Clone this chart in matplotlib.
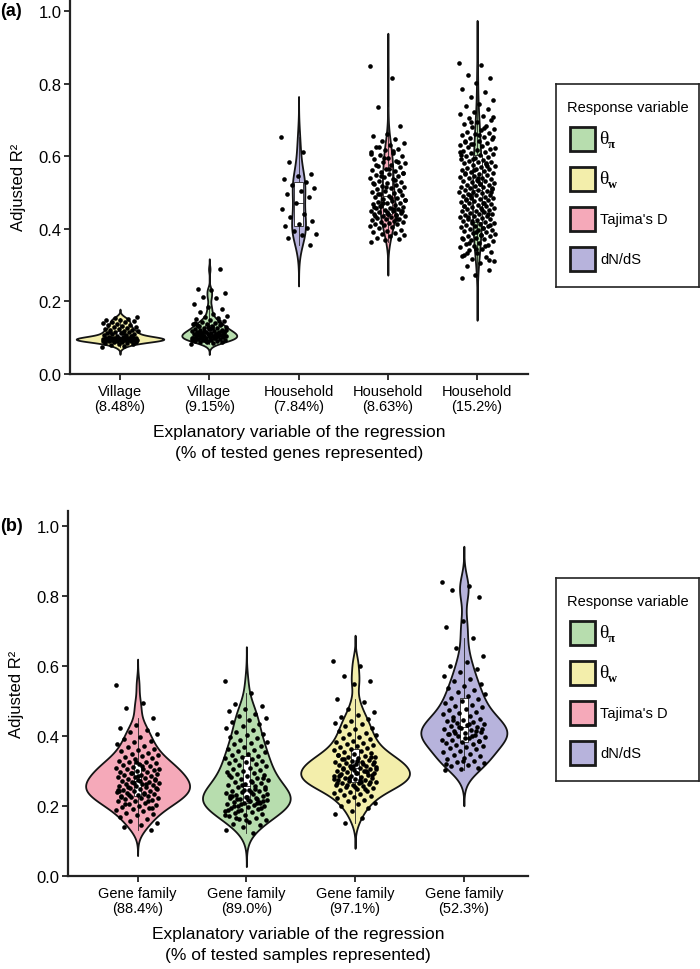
import numpy as np
import matplotlib
matplotlib.use("Agg")
import matplotlib.pyplot as plt
from matplotlib.patches import Rectangle

plt.rcParams['font.family'] = ['Liberation Sans', 'DejaVu Sans']

# colours for the response variables
GREEN = '#b7ddae'
YELLOW = '#f3eeab'
PINK = '#f5a9b9'
PURPLE = '#b7b3dc'

# ---- panel (a) data: adjusted R^2 per regression ----
labels_a = ["Village\n(8.48%)", "Village\n(9.15%)", "Household\n(7.84%)",
            "Household\n(8.63%)", "Household\n(15.2%)"]
colors_a = [YELLOW, GREEN, PURPLE, PINK, GREEN]

village_848 = [
    0.075, 0.078, 0.080, 0.082, 0.084, 0.085, 0.086, 0.087, 0.088, 0.089,
    0.090, 0.091, 0.092, 0.092, 0.093, 0.093, 0.094, 0.094, 0.094, 0.094,
    0.095, 0.095, 0.095, 0.095, 0.095, 0.096, 0.096, 0.096, 0.096, 0.096,
    0.097, 0.097, 0.097, 0.097, 0.097, 0.098, 0.098, 0.098, 0.098, 0.099,
    0.099, 0.099, 0.100, 0.101, 0.103, 0.104, 0.106, 0.107, 0.108, 0.110,
    0.111, 0.112, 0.114, 0.115, 0.116, 0.118, 0.119, 0.121, 0.122, 0.124,
    0.125, 0.127, 0.129, 0.130, 0.132, 0.134, 0.136, 0.138, 0.140, 0.142,
    0.144, 0.146, 0.148, 0.150, 0.152, 0.155, 0.158, 0.113, 0.117, 0.105]

village_915 = [
    0.082, 0.085, 0.087, 0.089, 0.090, 0.091, 0.092, 0.093, 0.094, 0.095,
    0.096, 0.097, 0.098, 0.099, 0.100, 0.100, 0.101, 0.102, 0.103, 0.104,
    0.105, 0.105, 0.106, 0.107, 0.108, 0.109, 0.110, 0.111, 0.112, 0.113,
    0.114, 0.115, 0.116, 0.117, 0.118, 0.119, 0.120, 0.122, 0.123, 0.125,
    0.126, 0.128, 0.130, 0.131, 0.133, 0.135, 0.137, 0.139, 0.141, 0.143,
    0.145, 0.148, 0.151, 0.154, 0.157, 0.160, 0.165, 0.172, 0.178, 0.185,
    0.193, 0.210, 0.213, 0.222, 0.231, 0.233, 0.289, 0.092, 0.095, 0.098,
    0.101, 0.104, 0.107, 0.111, 0.114, 0.118, 0.121, 0.127, 0.132, 0.138,
    0.088, 0.096, 0.103, 0.109, 0.116, 0.124, 0.134, 0.146, 0.094, 0.099,
    0.106, 0.112, 0.119, 0.129, 0.140]

household_784 = [
    0.652, 0.612, 0.583, 0.551, 0.545, 0.536, 0.528, 0.521, 0.512, 0.503,
    0.495, 0.488, 0.472, 0.455, 0.441, 0.433, 0.421, 0.412, 0.408, 0.402,
    0.395, 0.387, 0.382, 0.376, 0.355]

household_863 = [
    0.848, 0.815, 0.735, 0.683, 0.662, 0.655, 0.648, 0.641, 0.636, 0.631,
    0.626, 0.621, 0.617, 0.612, 0.608, 0.604, 0.600, 0.596, 0.592, 0.588,
    0.584, 0.580, 0.577, 0.573, 0.570, 0.566, 0.563, 0.560, 0.557, 0.554,
    0.551, 0.548, 0.545, 0.542, 0.539, 0.536, 0.533, 0.530, 0.527, 0.524,
    0.521, 0.518, 0.515, 0.512, 0.509, 0.506, 0.503, 0.500, 0.498, 0.495,
    0.492, 0.490, 0.487, 0.485, 0.482, 0.480, 0.477, 0.475, 0.472, 0.470,
    0.468, 0.465, 0.463, 0.461, 0.458, 0.456, 0.454, 0.452, 0.450, 0.448,
    0.446, 0.444, 0.442, 0.440, 0.438, 0.436, 0.434, 0.432, 0.430, 0.428,
    0.426, 0.424, 0.422, 0.420, 0.418, 0.416, 0.414, 0.412, 0.410, 0.407,
    0.404, 0.401, 0.398, 0.395, 0.392, 0.389, 0.386, 0.383, 0.380, 0.376,
    0.372, 0.368, 0.363, 0.455, 0.462, 0.448, 0.441, 0.435, 0.428, 0.470,
    0.478, 0.485, 0.495, 0.505, 0.515, 0.525, 0.535, 0.545, 0.555, 0.565,
    0.575, 0.585, 0.595, 0.605, 0.615, 0.625, 0.450, 0.445, 0.460, 0.438]

household_152 = [
    0.857, 0.852, 0.824, 0.815, 0.801, 0.786, 0.778, 0.763, 0.755, 0.744,
    0.738, 0.729, 0.722, 0.717, 0.711, 0.704, 0.699, 0.694, 0.689, 0.684,
    0.680, 0.676, 0.671, 0.668, 0.664, 0.660, 0.657, 0.653, 0.649, 0.646,
    0.643, 0.640, 0.637, 0.633, 0.630, 0.627, 0.624, 0.621, 0.618, 0.615,
    0.612, 0.609, 0.606, 0.604, 0.601, 0.598, 0.596, 0.593, 0.590, 0.588,
    0.585, 0.583, 0.580, 0.578, 0.575, 0.573, 0.571, 0.568, 0.566, 0.564,
    0.561, 0.559, 0.557, 0.555, 0.552, 0.550, 0.548, 0.546, 0.544, 0.541,
    0.539, 0.537, 0.535, 0.533, 0.531, 0.529, 0.527, 0.524, 0.522, 0.520,
    0.518, 0.516, 0.514, 0.512, 0.510, 0.508, 0.506, 0.504, 0.502, 0.500,
    0.498, 0.496, 0.494, 0.492, 0.490, 0.488, 0.486, 0.484, 0.482, 0.480,
    0.478, 0.476, 0.474, 0.472, 0.470, 0.468, 0.466, 0.464, 0.462, 0.460,
    0.458, 0.456, 0.454, 0.452, 0.450, 0.448, 0.446, 0.444, 0.442, 0.440,
    0.438, 0.436, 0.434, 0.432, 0.430, 0.428, 0.426, 0.424, 0.421, 0.419,
    0.417, 0.415, 0.413, 0.411, 0.409, 0.407, 0.405, 0.402, 0.400, 0.398,
    0.396, 0.393, 0.391, 0.389, 0.386, 0.384, 0.381, 0.379, 0.376, 0.374,
    0.371, 0.368, 0.365, 0.362, 0.359, 0.356, 0.352, 0.349, 0.345, 0.341,
    0.337, 0.333, 0.328, 0.323, 0.318, 0.312, 0.305, 0.297, 0.286, 0.274,
    0.265, 0.471, 0.493, 0.512, 0.531, 0.553, 0.572, 0.591, 0.612, 0.451,
    0.432, 0.411, 0.392, 0.371, 0.352, 0.633, 0.652, 0.523, 0.483, 0.441,
    0.562, 0.603, 0.401, 0.362, 0.502, 0.541, 0.462, 0.582, 0.422, 0.622,
    0.383, 0.334, 0.315, 0.343, 0.326, 0.677, 0.695, 0.708, 0.657, 0.642]

# ---- panel (b) data ----
labels_b = ["Gene family\n(88.4%)", "Gene family\n(89.0%)",
            "Gene family\n(97.1%)", "Gene family\n(52.3%)"]
colors_b = [PINK, GREEN, YELLOW, PURPLE]

gf_884 = [
    0.546, 0.494, 0.481, 0.452, 0.431, 0.424, 0.418, 0.411, 0.405, 0.398,
    0.392, 0.387, 0.382, 0.377, 0.372, 0.368, 0.364, 0.360, 0.356, 0.352,
    0.349, 0.346, 0.342, 0.339, 0.336, 0.333, 0.330, 0.327, 0.325, 0.322,
    0.319, 0.317, 0.314, 0.312, 0.310, 0.307, 0.305, 0.303, 0.300, 0.298,
    0.296, 0.294, 0.292, 0.290, 0.288, 0.286, 0.284, 0.282, 0.280, 0.278,
    0.276, 0.274, 0.272, 0.270, 0.268, 0.266, 0.264, 0.262, 0.260, 0.258,
    0.256, 0.254, 0.252, 0.250, 0.248, 0.246, 0.244, 0.242, 0.240, 0.238,
    0.236, 0.234, 0.232, 0.230, 0.228, 0.226, 0.224, 0.222, 0.220, 0.218,
    0.215, 0.213, 0.210, 0.207, 0.204, 0.201, 0.198, 0.195, 0.192, 0.188,
    0.185, 0.181, 0.177, 0.173, 0.168, 0.163, 0.158, 0.152, 0.146, 0.139,
    0.132, 0.265, 0.245, 0.235, 0.255, 0.275, 0.285, 0.225, 0.215, 0.295,
    0.305, 0.315, 0.205, 0.195, 0.325, 0.243, 0.262, 0.231, 0.251, 0.271]

gf_890 = [
    0.558, 0.523, 0.492, 0.486, 0.478, 0.471, 0.464, 0.457, 0.451, 0.445,
    0.439, 0.433, 0.428, 0.422, 0.417, 0.412, 0.407, 0.402, 0.397, 0.393,
    0.388, 0.384, 0.380, 0.376, 0.372, 0.368, 0.364, 0.360, 0.357, 0.353,
    0.350, 0.347, 0.343, 0.340, 0.337, 0.334, 0.331, 0.328, 0.325, 0.322,
    0.319, 0.316, 0.313, 0.310, 0.307, 0.304, 0.301, 0.298, 0.295, 0.292,
    0.289, 0.286, 0.283, 0.280, 0.277, 0.274, 0.271, 0.268, 0.265, 0.262,
    0.259, 0.256, 0.253, 0.250, 0.247, 0.244, 0.242, 0.239, 0.236, 0.234,
    0.231, 0.229, 0.226, 0.224, 0.221, 0.219, 0.217, 0.214, 0.212, 0.210,
    0.208, 0.205, 0.203, 0.201, 0.199, 0.196, 0.194, 0.191, 0.189, 0.186,
    0.183, 0.180, 0.177, 0.174, 0.171, 0.167, 0.163, 0.159, 0.155, 0.150,
    0.145, 0.139, 0.132, 0.124, 0.220, 0.215, 0.225, 0.230, 0.210, 0.205,
    0.235, 0.240, 0.200, 0.195, 0.245, 0.190, 0.250, 0.185, 0.255, 0.218,
    0.228, 0.212, 0.260, 0.175, 0.270, 0.165, 0.280, 0.160, 0.290, 0.222]

gf_971 = [
    0.615, 0.601, 0.572, 0.557, 0.548, 0.505, 0.497, 0.478, 0.468, 0.461,
    0.455, 0.449, 0.443, 0.438, 0.433, 0.428, 0.423, 0.419, 0.414, 0.410,
    0.406, 0.402, 0.398, 0.394, 0.391, 0.387, 0.384, 0.380, 0.377, 0.374,
    0.371, 0.368, 0.365, 0.362, 0.359, 0.356, 0.354, 0.351, 0.349, 0.346,
    0.344, 0.341, 0.339, 0.336, 0.334, 0.332, 0.330, 0.327, 0.325, 0.323,
    0.321, 0.319, 0.317, 0.315, 0.313, 0.311, 0.309, 0.307, 0.305, 0.303,
    0.301, 0.299, 0.297, 0.295, 0.293, 0.291, 0.289, 0.287, 0.285, 0.283,
    0.281, 0.279, 0.277, 0.275, 0.273, 0.271, 0.269, 0.267, 0.265, 0.263,
    0.261, 0.259, 0.257, 0.254, 0.252, 0.249, 0.247, 0.244, 0.241, 0.238,
    0.235, 0.232, 0.229, 0.226, 0.222, 0.218, 0.214, 0.210, 0.205, 0.200,
    0.194, 0.187, 0.178, 0.167, 0.152, 0.290, 0.295, 0.285, 0.300, 0.280,
    0.305, 0.275, 0.310, 0.270, 0.315, 0.265, 0.320, 0.260, 0.325, 0.330,
    0.288, 0.298, 0.308, 0.278, 0.268, 0.335, 0.340, 0.255, 0.345, 0.250]

gf_523 = [
    0.841, 0.828, 0.817, 0.798, 0.728, 0.712, 0.679, 0.652, 0.628, 0.612,
    0.601, 0.592, 0.583, 0.572, 0.563, 0.556, 0.549, 0.543, 0.537, 0.531,
    0.525, 0.520, 0.515, 0.510, 0.505, 0.500, 0.495, 0.490, 0.486, 0.482,
    0.478, 0.474, 0.470, 0.466, 0.462, 0.458, 0.454, 0.450, 0.447, 0.444,
    0.441, 0.438, 0.435, 0.432, 0.429, 0.426, 0.423, 0.420, 0.417, 0.414,
    0.411, 0.408, 0.405, 0.402, 0.399, 0.396, 0.393, 0.390, 0.387, 0.384,
    0.381, 0.378, 0.375, 0.372, 0.369, 0.366, 0.362, 0.358, 0.354, 0.350,
    0.346, 0.342, 0.338, 0.334, 0.330, 0.326, 0.322, 0.318, 0.314, 0.310,
    0.306, 0.302, 0.400, 0.410, 0.420, 0.395, 0.405, 0.415, 0.425, 0.390,
    0.435, 0.445, 0.385, 0.330, 0.320]

legend_items = [("θ", "π", GREEN), ("θ", "w", YELLOW),
                ("Tajima's D", None, PINK), ("dN/dS", None, PURPLE)]

W, H = 700, 970
fig = plt.figure(figsize=(W / 100, H / 100), dpi=100)


def px_axes(left, top, right, bottom):
    return fig.add_axes([left / W, 1 - bottom / H, (right - left) / W, (bottom - top) / H])


def kde(vals):
    # gaussian kde, silverman bandwidth, tails run 3 bandwidths past the data
    n = len(vals)
    q75, q25 = np.percentile(vals, [75, 25])
    bw = 0.9 * min(vals.std(ddof=1), (q75 - q25) / 1.34) * n ** -0.2
    grid = np.linspace(vals.min() - 3 * bw, vals.max() + 3 * bw, 400)
    z = (grid[:, None] - vals[None, :]) / bw
    dens = np.exp(-0.5 * z ** 2).sum(axis=1) / (n * bw * np.sqrt(2 * np.pi))
    return grid, dens


def draw_violins(ax, groups, colors, max_half, box_w):
    curves = [kde(np.asarray(g)) for g in groups]
    peak = max(d.max() for _, d in curves)  # same area for every violin
    for i, (vals, col, (grid, dens)) in enumerate(zip(groups, colors, curves)):
        vals = np.asarray(vals)
        half = dens / peak * max_half
        ax.fill_betweenx(grid, i - half, i + half, facecolor=col,
                         edgecolor='#141414', linewidth=1.3, zorder=2)

        q1, med, q3 = np.percentile(vals, [25, 50, 75])
        iqr = q3 - q1
        lo = vals[vals >= q1 - 1.5 * iqr].min()
        hi = vals[vals <= q3 + 1.5 * iqr].max()
        ax.plot([i, i], [lo, q1], color='#222222', lw=0.6, zorder=3)
        ax.plot([i, i], [q3, hi], color='#222222', lw=0.6, zorder=3)
        ax.bar(i, q3 - q1, bottom=q1, width=box_w, color='white',
               edgecolor='#222222', linewidth=0.6, zorder=3)
        ax.plot([i - box_w / 2, i + box_w / 2], [med, med], color='#222222', lw=0.6, zorder=3)

        # spread points sideways in a fixed pattern
        jit = ((np.arange(len(vals)) * 0.6180339887) % 1 - 0.5) * 0.4
        ax.scatter(i + jit, vals, s=11, c='black', linewidths=0, zorder=4)


def style_axes(ax, labels, xlabel, xlim, ylim):
    ax.set_xlim(*xlim)
    ax.set_ylim(*ylim)
    ax.set_xticks(range(len(labels)))
    ax.set_xticklabels(labels, fontsize=10.5, linespacing=1.15)
    ax.set_yticks([0, 0.2, 0.4, 0.6, 0.8, 1.0])
    ax.set_yticklabels(['0.0', '0.2', '0.4', '0.6', '0.8', '1.0'], fontsize=12)
    ax.tick_params(axis='both', direction='out', length=4, width=1.3, color='#222222')
    ax.tick_params(axis='x', pad=3)
    ax.tick_params(axis='y', pad=2)
    for s in ['top', 'right']:
        ax.spines[s].set_visible(False)
    for s in ['left', 'bottom']:
        ax.spines[s].set_linewidth(1.6)
        ax.spines[s].set_color('#222222')
    ax.set_xlabel(xlabel, fontsize=12.5, linespacing=1.5, labelpad=8)
    ax.set_ylabel("Adjusted R²", fontsize=12, labelpad=9)


def draw_legend(top):
    lax = px_axes(556, top, 699, top + 203)
    lax.set_xlim(0, 143)
    lax.set_ylim(203, 0)
    lax.set_xticks([])
    lax.set_yticks([])
    for s in lax.spines.values():
        s.set_linewidth(1.2)
        s.set_color('#222222')
    lax.text(71.5, 23, "Response variable", ha='center', va='center', fontsize=10.5)
    for k, (name, sub, col) in enumerate(legend_items):
        y = 55 + 40 * k
        lax.add_patch(Rectangle((14, y - 12), 25, 24, facecolor=col,
                                edgecolor='#1a1a1a', linewidth=2))
        if sub:
            lax.text(43, y, name, family='Liberation Serif', fontsize=14,
                     ha='left', va='center')
            lax.text(52, y + 5, sub, family='Liberation Serif', fontsize=9,
                     fontweight='bold', ha='left', va='center')
        else:
            lax.text(44, y, name, fontsize=10.5, ha='left', va='center')


# panel (a)
ax_a = px_axes(70, 0, 528, 375)
draw_violins(ax_a, [village_848, village_915, household_784, household_863, household_152],
             colors_a, max_half=0.49, box_w=0.1)
style_axes(ax_a, labels_a,
           "Explanatory variable of the regression\n(% of tested genes represented)",
           (-0.56, 4.57), (0, 1.033))
draw_legend(85)
fig.text(0 / W, 1 - 12 / H, "(a)", fontsize=13, fontweight='bold', ha='left', va='center')

# panel (b)
ax_b = px_axes(68, 512, 528, 877)
draw_violins(ax_b, [gf_884, gf_890, gf_971, gf_523], colors_b, max_half=0.5, box_w=0.07)
style_axes(ax_b, labels_b,
           "Explanatory variable of the regression\n(% of tested samples represented)",
           (-0.64, 3.59), (0, 1.043))
draw_legend(579)
fig.text(0 / W, 1 - 527 / H, "(b)", fontsize=13, fontweight='bold', ha='left', va='center')

fig.savefig("out.png", dpi=100)
